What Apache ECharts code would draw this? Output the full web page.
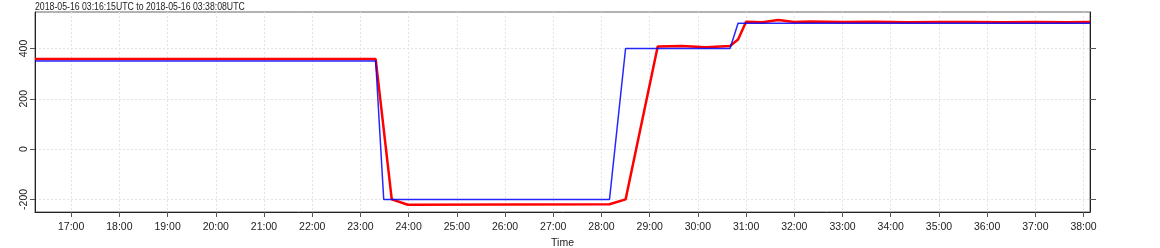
<!DOCTYPE html>
<html>
<head>
<meta charset="utf-8">
<script src="https://cdn.jsdelivr.net/npm/echarts@6/dist/echarts.min.js"></script>
<style>
html,body{margin:0;padding:0;background:#fff;}
#c{width:1160px;height:248px;}
</style>
</head>
<body>
<div id="c"></div>
<script>
// ---- data (times are mm:ss after 03:00 UTC) ----
var titleText = '2018-05-16 03:16:15UTC to 2018-05-16 03:38:08UTC';
var xRange = ['16:15', '38:08'];
var xTickLabels = ['17:00','18:00','19:00','20:00','21:00','22:00','23:00','24:00','25:00','26:00','27:00','28:00','29:00','30:00','31:00','32:00','33:00','34:00','35:00','36:00','37:00','38:00'];
var yTicks = [-200, 0, 200, 400];
var yRange = [-250, 545];

var redTimes  = ['16:15','23:19','23:39','23:59','28:10','28:30','29:10','29:40','30:10','30:40','30:50','31:00','31:20','31:40','32:00','32:20','33:00','33:40','34:20','35:00','35:40','36:20','37:00','37:40','38:08'];
var redValues = [358, 358, -200, -221, -219, -200, 408, 410, 405, 410, 436, 506, 504, 513, 505, 507, 505, 506, 504, 505, 505, 504, 505, 504, 505];

var blueTimes  = ['16:15','23:19','23:29','28:10','28:30','30:40','30:50','38:08'];
var blueValues = [350, 350, -200, -200, 400, 400, 500, 500];

function toSec(s){ var p = s.split(':'); return (+p[0])*60 + (+p[1]); }
function pairs(ts, vs){ return ts.map(function(t,i){ return [toSec(t), vs[i]]; }); }
var xTicks = xTickLabels.map(toSec);
function fmt(v){ var m = Math.floor(v/60), s = Math.round(v - m*60); return m + ':' + (s<10?'0':'') + s; }

var FONT = '"Liberation Sans", Arial, sans-serif';
var chart = echarts.init(document.getElementById('c'), null, {renderer:'canvas'});
chart.setOption({
  animation: false,
  backgroundColor: '#fff',
  graphic: [{
    type: 'text', x: 35, y: 1.5, scaleX: 0.83, scaleY: 1, silent: true,
    style: {text: titleText, fontFamily: FONT, fontSize: 10.5, fill: '#222', textVerticalAlign: 'top', textAlign: 'left'}
  }],
  grid: {left: 35, right: 70, top: 12, bottom: 36, outerBoundsMode: 'none', containLabel: false,
         show: true, borderColor: '#666', borderWidth: 1, backgroundColor: 'transparent'},
  xAxis: {
    type: 'value', min: toSec(xRange[0]), max: toSec(xRange[1]),
    name: 'Time', nameLocation: 'middle', nameGap: 26,
    nameTextStyle: {fontFamily: FONT, fontSize: 10.5, color: '#222'},
    axisLine: {show: true, onZero: false, lineStyle: {color: '#222', width: 1}},
    axisTick: {show: true, length: 5, customValues: xTicks, lineStyle: {color: '#555'}},
    axisLabel: {customValues: xTicks, formatter: fmt, margin: 10, fontFamily: FONT, fontSize: 10.5, color: '#222'},
    splitLine: {show: true, lineStyle: {color: '#e4e4e4', type: [2, 2], width: 1}}
  },
  yAxis: [{
    type: 'value', min: yRange[0], max: yRange[1], position: 'left',
    axisLine: {show: true, onZero: false, lineStyle: {color: '#222', width: 1}},
    axisTick: {show: true, length: 5, customValues: yTicks, lineStyle: {color: '#555'}},
    axisLabel: {customValues: yTicks, rotate: 90, margin: 5, fontFamily: FONT, fontSize: 10.5, color: '#222'},
    splitLine: {show: true, lineStyle: {color: '#e4e4e4', type: [2, 2], width: 1}}
  }, {
    type: 'value', min: yRange[0], max: yRange[1], position: 'right',
    axisLine: {show: true, onZero: false, lineStyle: {color: '#222', width: 1}},
    axisTick: {show: true, length: 6, customValues: yTicks, lineStyle: {color: '#555'}},
    axisLabel: {show: false},
    splitLine: {show: false}
  }],
  series: [{
    type: 'line', name: 'red', data: pairs(redTimes, redValues), showSymbol: false, symbol: 'none',
    lineStyle: {color: '#ff0000', width: 2.5}, z: 2
  }, {
    type: 'line', name: 'blue', data: pairs(blueTimes, blueValues), showSymbol: false, symbol: 'none',
    lineStyle: {color: '#0000ff', width: 1.5, opacity: 0.85}, z: 3
  }]
});
</script>
</body>
</html>
